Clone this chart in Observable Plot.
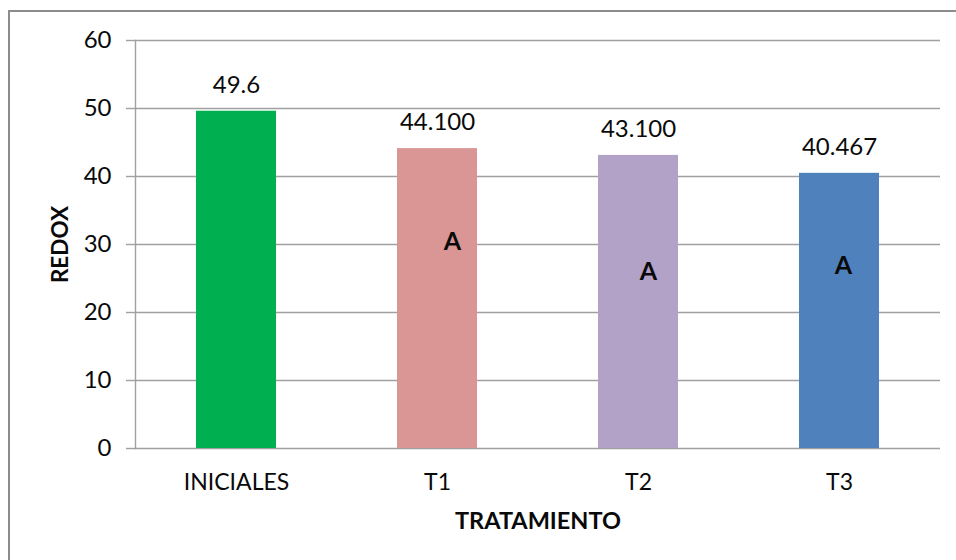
<!DOCTYPE html>
<html>
<head>
<meta charset="utf-8">
<script src="https://cdn.jsdelivr.net/npm/d3@7"></script>
<script src="https://cdn.jsdelivr.net/npm/@observablehq/plot@0.6"></script>
<style>
  html, body { margin: 0; padding: 0; background: #fff; overflow: hidden; }
  #wrap { position: relative; width: 956px; height: 560px; }
  #border {
    position: absolute; left: 8px; top: 10px; width: 1000px; height: 600px;
    border: 2px solid #8c8c8c; box-sizing: border-box; pointer-events: none;
  }
</style>
</head>
<body>
<div id="wrap"><div id="border"></div></div>
<script>
// Redox by treatment
const categories = ["INICIALES", "T1", "T2", "T3"];
const redox = [49.6, 44.1, 43.1, 40.467];
const decimals = [1, 3, 3, 3];
const barColors = ["#00B050", "#D99694", "#B3A2C7", "#4F81BD"];
const letters = ["", "A", "A", "A"];
const letterAt = [null, 30.3, 25.9, 26.9];
const yTicks = [0, 10, 20, 30, 40, 50, 60];

const rows = categories.map((c, i) => ({
  cat: c,
  value: redox[i],
  label: redox[i].toFixed(decimals[i]),
  color: barColors[i],
  letter: letters[i],
  letterY: letterAt[i]
}));

const font = "Lato, 'Open Sans', sans-serif";
const gridColor = "#a0a0a0";
const letterShift = [0, 15, 10, 4];

const chart = Plot.plot({
  width: 956,
  height: 560,
  marginLeft: 135,
  marginRight: 16,
  marginTop: 40,
  marginBottom: 112,
  style: { fontFamily: font, background: "transparent", color: "#000" },
  x: { domain: categories, paddingInner: 0.6, paddingOuter: 0.3, label: null },
  y: { domain: [0, 60], label: null },
  marks: [
    Plot.ruleY(yTicks, { stroke: gridColor, strokeWidth: 1.4 }),
    Plot.frame({ anchor: "left", stroke: gridColor, strokeWidth: 1.4 }),
    Plot.barY(rows, { x: "cat", y: "value", fill: "color" }),
    Plot.axisY(yTicks, {
      tickSize: 9, tickPadding: 15, stroke: gridColor, strokeWidth: 1.4,
      fontSize: 24, fill: "#0a0a0a", label: null
    }),
    Plot.axisX({ tickSize: 0, tickPadding: 25, fontSize: 23, fill: "#0a0a0a", label: null }),
    Plot.text(rows, {
      x: "cat", y: "value", text: "label", dy: -26,
      fontSize: 24, fill: "#0a0a0a"
    }),
    ...rows.filter(r => r.letter).map(r =>
      Plot.text([r], {
        x: "cat", y: "letterY", text: "letter",
        dx: letterShift[categories.indexOf(r.cat)],
        fontSize: 25, fontWeight: "bold", fill: "#0a0a0a"
      })
    ),
    Plot.text(["TRATAMIENTO"], {
      frameAnchor: "bottom", lineAnchor: "middle", dy: 73,
      fontSize: 23.5, fontWeight: "bold", fill: "#0a0a0a"
    }),
    Plot.text(["REDOX"], {
      frameAnchor: "left", textAnchor: "middle", dx: -75, rotate: -90,
      fontSize: 22.5, fontWeight: "bold", fill: "#0a0a0a"
    })
  ]
});

document.getElementById("wrap").prepend(chart);
chart.style.position = "absolute";
chart.style.left = "0";
chart.style.top = "0";
</script>
</body>
</html>
